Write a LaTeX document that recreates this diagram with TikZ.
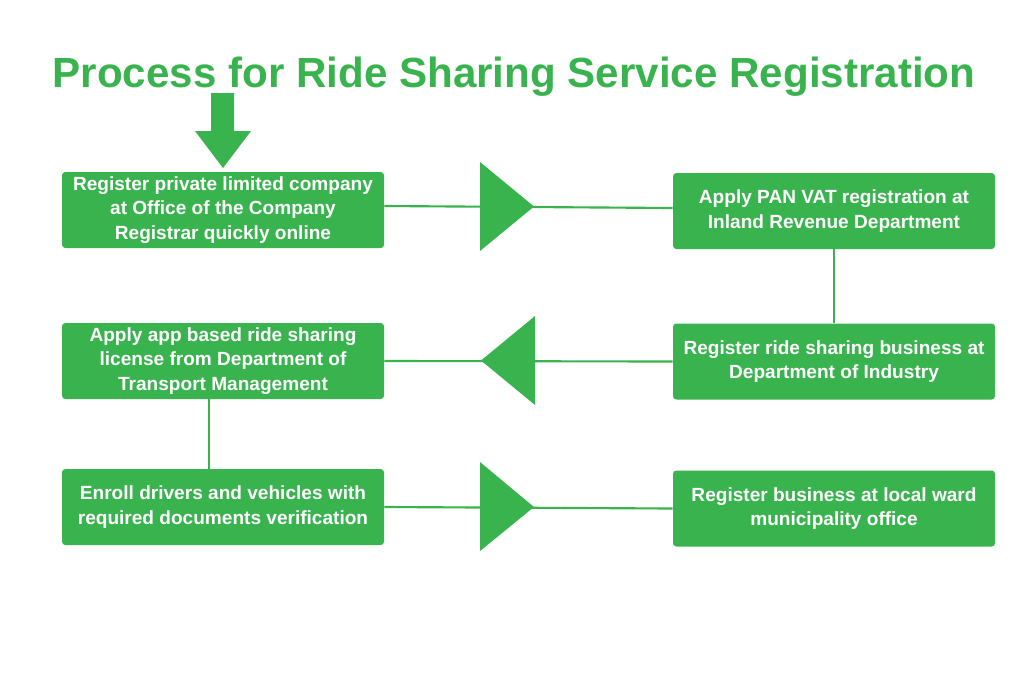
\documentclass[tikz,border=0pt]{standalone}
\usepackage{fontspec}
\setmainfont{Liberation Sans}
\definecolor{rsgreen}{RGB}{56,179,78}
\begin{document}
\begin{tikzpicture}[x=0.75pt,y=-0.75pt,
  box/.style={rectangle, rounded corners=2.5pt, fill=rsgreen, text=white,
    minimum width=241.5pt, minimum height=57pt, align=center, inner sep=0pt,
    font=\bfseries\fontsize{14.3}{18.4}\selectfont},
  conn/.style={draw=rsgreen, line width=1.6pt},
  head/.style={fill=rsgreen}]
\useasboundingbox[fill=white] (0,0) rectangle (1024,683);
\node[text=rsgreen, font=\bfseries\fontsize{31.6}{36}\selectfont, anchor=base] (title) at (514,87) {Process for Ride Sharing Service Registration};
% start arrow
\fill[rsgreen] (211,93) -- (234,93) -- (234,131) -- (251,131) -- (223,168) -- (195,131) -- (211,131) -- cycle;
\node[box] (b1) at (223,210) {Register private limited company\\at Office of the Company\\Registrar quickly online};
\node[box] (b2) at (834,211) {Apply PAN VAT registration at\\Inland Revenue Department};
\node[box] (b3) at (834,361.5) {Register ride sharing business at\\Department of Industry};
\node[box] (b4) at (223,361) {Apply app based ride sharing\\license from Department of\\Transport Management};
\node[box] (b5) at (223,507) {Enroll drivers and vehicles with\\required documents verification};
\node[box] (b6) at (834,508.5) {Register business at local ward\\municipality office};
% connectors
\draw[conn] ([yshift=3pt]b1.east) -- ([yshift=2.25pt]b2.west);
\fill[head] (480,162) -- (534,206.5) -- (480,251) -- cycle;
\draw[conn] (b2.south) -- (b3.north);
\draw[conn] (b3.west) -- (b4.east);
\fill[head] (535,316) -- (481,360.5) -- (535,405) -- cycle;
\draw[conn] ([xshift=-10.5pt]b4.south) -- ([xshift=-10.5pt]b5.north);
\draw[conn] (b5.east) -- (b6.west);
\fill[head] (480,462) -- (534,507) -- (480,551) -- cycle;
\end{tikzpicture}
\end{document}
